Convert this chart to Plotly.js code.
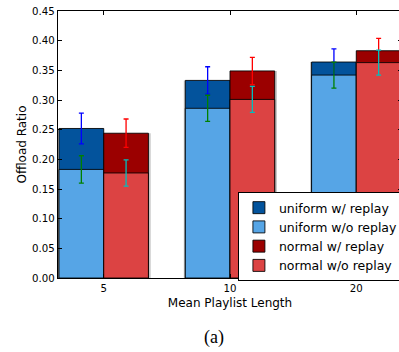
<!DOCTYPE html>
<html>
<head>
<meta charset="utf-8">
<script src="https://cdn.plot.ly/plotly-3.0.1.min.js"></script>
<style>
html,body{margin:0;padding:0;overflow:hidden;background:#fff;width:399px;height:352px;}
#chart{width:410px;height:352px;}
</style>
</head>
<body>
<div id="chart"></div>
<script>
var categories = ['5', '10', '20'];
var uniformReplay = [0.252, 0.333, 0.364];
var uniformReplayErr = [0.026, 0.023, 0.022];
var uniformNoReplay = [0.183, 0.286, 0.342];
var uniformNoReplayErr = [0.023, 0.022, 0.022];
var normalReplay = [0.244, 0.349, 0.383];
var normalReplayErr = [0.024, 0.023, 0.021];
var normalNoReplay = [0.177, 0.301, 0.363];
var normalNoReplayErr = [0.022, 0.022, 0.021];

var BW = 0.354;
function bar(name, vals, errs, fill, errColor, offset) {
  return {
    type: 'bar', name: name, x: categories, y: vals,
    width: BW, offset: offset,
    marker: {color: fill, line: {color: 'rgba(0,0,0,0.85)', width: 1}},
    error_y: {type: 'data', array: errs, visible: true, color: errColor, thickness: 1.3, width: 2.5},
    hoverinfo: 'skip'
  };
}
function shadow(vals, offset, width) {
  return {
    type: 'bar', x: categories, y: vals, base: 0, width: width, offset: offset,
    marker: {color: 'rgba(0,0,0,0.22)', line: {width: 0}},
    showlegend: false, hoverinfo: 'skip'
  };
}
var data = [
  shadow(uniformReplay, -BW - 0.012, BW + 0.012),
  shadow(normalReplay, 0, BW + 0.018),
  bar('uniform w/ replay', uniformReplay, uniformReplayErr, '#03539c', '#0000ff', -BW),
  bar('uniform w/o replay', uniformNoReplay, uniformNoReplayErr, '#56a5e6', '#008000', -BW),
  bar('normal w/ replay', normalReplay, normalReplayErr, '#9b0000', '#ff0000', 0),
  bar('normal w/o replay', normalNoReplay, normalNoReplayErr, '#dc4343', '#00bfbf', 0)
];

var layout = {
  width: 410, height: 352,
  margin: {l: 58, r: 6, t: 11, b: 74},
  barmode: 'overlay',
  paper_bgcolor: '#fff', plot_bgcolor: '#fff',
  font: {family: 'DejaVu Sans', color: '#000', size: 10},
  showlegend: true,
  legend: {
    x: 0.523, y: 0.322, xanchor: 'left', yanchor: 'top',
    bgcolor: '#fff', bordercolor: '#000', borderwidth: 1,
    font: {family: 'DejaVu Sans', size: 12.5, color: '#000'},
    tracegroupgap: 0
  },
  xaxis: {
    type: 'category', range: [-0.362, 2.362],
    showline: true, linecolor: '#000', linewidth: 1.3, mirror: 'ticks',
    ticks: 'inside', ticklen: 4, tickcolor: '#000', showgrid: false, zeroline: false,
    tickfont: {size: 10.2},
    title: {text: 'Mean Playlist Length', font: {size: 12}, standoff: 6}
  },
  yaxis: {
    range: [0, 0.45], dtick: 0.05, tickformat: '.2f',
    showline: true, linecolor: '#000', linewidth: 1.3, mirror: 'ticks',
    ticks: 'inside', ticklen: 4, tickcolor: '#000', showgrid: false, zeroline: false,
    tickfont: {size: 10.2},
    title: {text: 'Offload Ratio', font: {size: 12}, standoff: 2}
  },
  annotations: [{
    text: '(a)', xref: 'paper', yref: 'paper', x: 0.454, y: -0.221,
    xanchor: 'center', yanchor: 'middle', showarrow: false,
    font: {family: 'Liberation Serif', size: 18, color: '#000'}
  }]
};
Plotly.newPlot('chart', data, layout, {displayModeBar: false, staticPlot: true});
</script>
</body>
</html>
